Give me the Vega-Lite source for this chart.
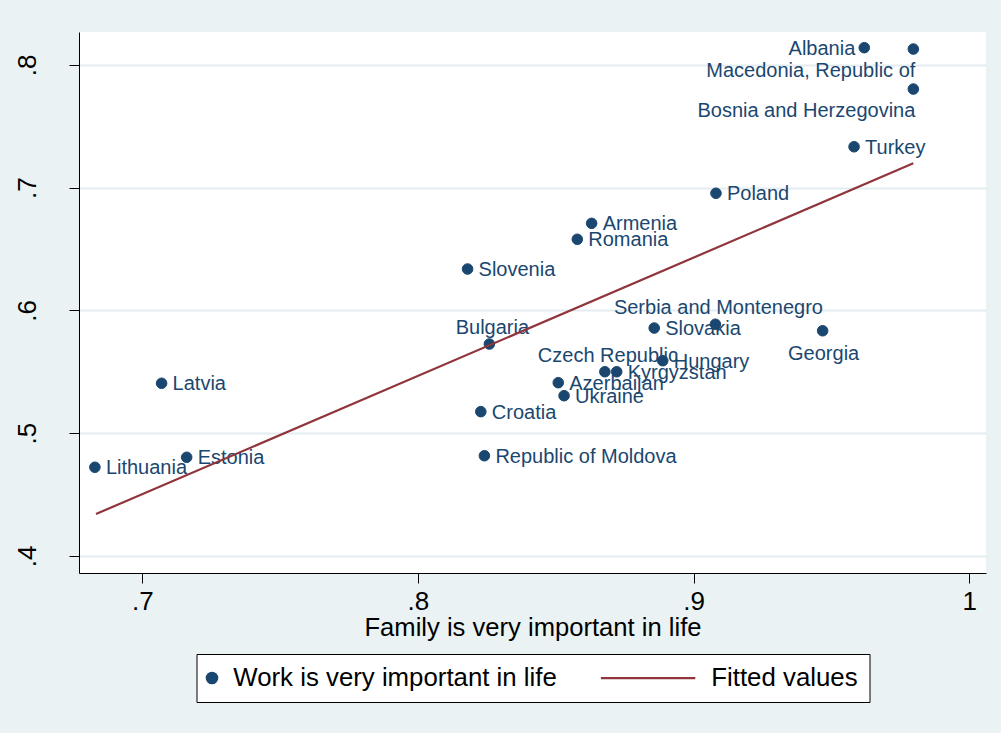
{
  "$schema": "https://vega.github.io/schema/vega-lite/v6.json",
  "width": 907,
  "height": 541,
  "autosize": {"type": "none"},
  "padding": {"left": 79, "top": 32, "right": 15, "bottom": 160},
  "background": "#EAF2F3",
  "datasets": {
    "countries": [
      {"country": "Albania", "family": 0.9619, "work": 0.8141, "series": "Work is very important in life"},
      {"country": "Macedonia, Republic of", "family": 0.9797, "work": 0.8130, "series": "Work is very important in life"},
      {"country": "Bosnia and Herzegovina", "family": 0.9797, "work": 0.7804, "series": "Work is very important in life"},
      {"country": "Turkey", "family": 0.9582, "work": 0.7334, "series": "Work is very important in life"},
      {"country": "Poland", "family": 0.9081, "work": 0.6955, "series": "Work is very important in life"},
      {"country": "Armenia", "family": 0.8630, "work": 0.6710, "series": "Work is very important in life"},
      {"country": "Romania", "family": 0.8578, "work": 0.6580, "series": "Work is very important in life"},
      {"country": "Slovenia", "family": 0.8180, "work": 0.6338, "series": "Work is very important in life"},
      {"country": "Slovakia", "family": 0.8857, "work": 0.5857, "series": "Work is very important in life"},
      {"country": "Serbia and Montenegro", "family": 0.9079, "work": 0.5888, "series": "Work is very important in life"},
      {"country": "Georgia", "family": 0.9468, "work": 0.5835, "series": "Work is very important in life"},
      {"country": "Bulgaria", "family": 0.8259, "work": 0.5727, "series": "Work is very important in life"},
      {"country": "Czech Republic", "family": 0.8678, "work": 0.5501, "series": "Work is very important in life"},
      {"country": "Hungary", "family": 0.8888, "work": 0.5591, "series": "Work is very important in life"},
      {"country": "Kyrgyzstan", "family": 0.8721, "work": 0.5501, "series": "Work is very important in life"},
      {"country": "Azerbaijan", "family": 0.8509, "work": 0.5412, "series": "Work is very important in life"},
      {"country": "Ukraine", "family": 0.8530, "work": 0.5306, "series": "Work is very important in life"},
      {"country": "Croatia", "family": 0.8228, "work": 0.5176, "series": "Work is very important in life"},
      {"country": "Republic of Moldova", "family": 0.8241, "work": 0.4817, "series": "Work is very important in life"},
      {"country": "Latvia", "family": 0.7070, "work": 0.5407, "series": "Work is very important in life"},
      {"country": "Estonia", "family": 0.7161, "work": 0.4804, "series": "Work is very important in life"},
      {"country": "Lithuania", "family": 0.6828, "work": 0.4723, "series": "Work is very important in life"}
    ],
    "fit": [
      {"family": 0.6832, "fitted": 0.4342, "series": "Fitted values"},
      {"family": 0.9797, "fitted": 0.7199, "series": "Fitted values"}
    ]
  },
  "data": {"name": "countries"},
  "encoding": {
    "x": {
      "field": "family",
      "type": "quantitative",
      "title": "Family is very important in life",
      "scale": {"domain": [0.67704, 1.00606], "zero": false, "nice": false},
      "axis": {
        "values": [0.7, 0.8, 0.9, 1],
        "labelExpr": "datum.value == 1 ? '1' : replace(format(datum.value, '.1f'), '0.', '.')",
        "grid": false,
        "labelPadding": 5,
        "titlePadding": 1
      }
    },
    "y": {
      "field": "work",
      "type": "quantitative",
      "title": null,
      "scale": {"domain": [0.38615, 0.82688], "zero": false, "nice": false},
      "axis": {
        "values": [0.4, 0.5, 0.6, 0.7, 0.8],
        "labelExpr": "replace(format(datum.value, '.1f'), '0.', '.')",
        "grid": true,
        "gridColor": "#E3ECEF",
        "gridWidth": 2,
        "labelAngle": -90,
        "labelAlign": "center",
        "labelBaseline": "bottom",
        "labelPadding": 29
      }
    }
  },
  "layer": [
    {
      "transform": [{"filter": "indexof(['Albania', 'Macedonia, Republic of', 'Bosnia and Herzegovina', 'Serbia and Montenegro', 'Bulgaria', 'Czech Republic', 'Georgia'], datum.country) < 0"}],
      "mark": {"type": "text", "align": "left", "baseline": "middle", "dx": 11, "dy": 1, "fontSize": 20, "color": "#1A476F"},
      "encoding": {"text": {"field": "country"}}
    },
    {
      "transform": [{"filter": {"field": "country", "oneOf": ["Albania"]}}],
      "mark": {"type": "text", "align": "right", "baseline": "middle", "dx": -9, "dy": 1, "fontSize": 20, "color": "#1A476F"},
      "encoding": {"text": {"field": "country"}}
    },
    {
      "transform": [{"filter": {"field": "country", "oneOf": ["Macedonia, Republic of", "Bosnia and Herzegovina"]}}],
      "mark": {"type": "text", "align": "right", "baseline": "middle", "dx": 2, "dy": 22, "fontSize": 20, "color": "#1A476F"},
      "encoding": {"text": {"field": "country"}}
    },
    {
      "transform": [{"filter": {"field": "country", "oneOf": ["Serbia and Montenegro", "Bulgaria", "Czech Republic"]}}],
      "mark": {"type": "text", "align": "center", "baseline": "middle", "dx": 3, "dy": -16, "fontSize": 20, "color": "#1A476F"},
      "encoding": {"text": {"field": "country"}}
    },
    {
      "transform": [{"filter": {"field": "country", "oneOf": ["Georgia"]}}],
      "mark": {"type": "text", "align": "center", "baseline": "middle", "dx": 1, "dy": 23, "fontSize": 20, "color": "#1A476F"},
      "encoding": {"text": {"field": "country"}}
    },
    {
      "mark": {"type": "point", "filled": false, "fill": "#1A476F", "strokeWidth": 1, "opacity": 0},
      "encoding": {
        "shape": {
          "field": "series",
          "type": "nominal",
          "scale": {
            "domain": ["Work is very important in life", "Fitted values"],
            "range": ["M-0.32,0A0.52,0.52 0 1,1 -1.36,0A0.52,0.52 0 1,1 -0.32,0Z", "M-9.75,0L-0.31,0"]
          }
        },
        "color": {
          "field": "series",
          "type": "nominal",
          "scale": {"domain": ["Work is very important in life", "Fitted values"], "range": ["#1A476F", "#90353B"]},
          "legend": {
            "orient": "none",
            "legendX": 117.5,
            "legendY": 622,
            "direction": "horizontal",
            "columns": 2,
            "title": null,
            "strokeColor": "black",
            "fillColor": "white",
            "padding": 11,
            "cornerRadius": 0,
            "labelFontSize": 25.8,
            "labelColor": "black",
            "labelLimit": 0,
            "columnPadding": 39,
            "labelOffset": 0,
            "symbolSize": 400,
            "symbolStrokeWidth": 2.2,
            "symbolOpacity": 1
          }
        }
      }
    },
    {
      "mark": {"type": "point", "shape": "circle", "filled": false, "fill": "#1A476F", "strokeWidth": 1, "size": 112, "opacity": 1},
      "encoding": {
        "color": {"field": "series", "type": "nominal"}
      }
    },
    {
      "data": {"name": "fit"},
      "mark": {"type": "line", "strokeWidth": 2.2},
      "encoding": {
        "y": {"field": "fitted", "type": "quantitative", "title": null},
        "color": {"field": "series", "type": "nominal"}
      }
    }
  ],
  "config": {
    "font": "Liberation Sans",
    "view": {"stroke": null, "fill": "white"},
    "axis": {
      "domainColor": "black",
      "domainWidth": 1,
      "tickColor": "black",
      "tickWidth": 1,
      "tickSize": 10,
      "labelColor": "black",
      "labelFontSize": 26,
      "labelFont": "Liberation Sans",
      "titleFont": "Liberation Sans",
      "titleColor": "black",
      "titleFontSize": 25.6,
      "titleFontWeight": "normal"
    },
    "legend": {"labelFont": "Liberation Sans"}
  }
}
